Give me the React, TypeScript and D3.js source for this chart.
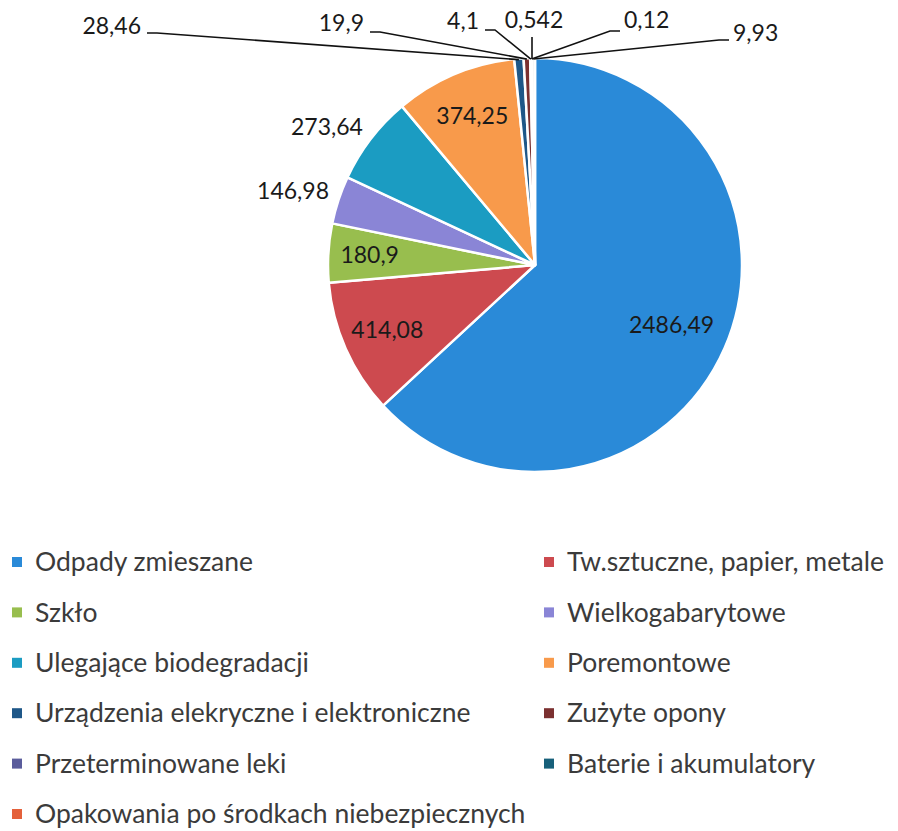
import * as d3 from "d3";
import { useEffect } from "react";

// dane do wykresu
const categories = [
  "Odpady zmieszane",
  "Tw.sztuczne, papier, metale",
  "Szkło",
  "Wielkogabarytowe",
  "Ulegające biodegradacji",
  "Poremontowe",
  "Urządzenia elekryczne i elektroniczne",
  "Zużyte opony",
  "Przeterminowane leki",
  "Baterie i akumulatory",
  "Opakowania po środkach niebezpiecznych",
  "",
];
const values = [2486.49, 414.08, 180.9, 146.98, 273.64, 374.25, 28.46, 19.9, 4.1, 0.542, 0.12, 9.93];
const valueLabels = ["2486,49", "414,08", "180,9", "146,98", "273,64", "374,25", "28,46", "19,9", "4,1", "0,542", "0,12", "9,93"];
const colors = [
  "#2a8ad8", "#cd4a4f", "#98be4e", "#8a85d6", "#1b9cc2", "#f89a4b",
  "#1e5788", "#7b3030", "#5a5c9c", "#17607a", "#e4613b", "#f4f4f4",
];

// gdzie ma stać etykieta: w środku, na zewnątrz, albo odnośnik u góry
const labelMode = ["in", "in", "in", "out", "out", "in", "call", "call", "call", "call", "call", "call"];
const insideRadius = [0.72, 0.78, 0.8, 0, 0, 0.78, 0, 0, 0, 0, 0, 0];
// odnośniki: koniec tekstu (x), linia bazowa, y linii, kierunek
const callouts = [
  null, null, null, null, null, null,
  { x: 141, base: 34, ly: 33, side: "left" },
  { x: 364, base: 31, ly: 32, side: "left" },
  { x: 479, base: 29, ly: 30, side: "left" },
  { x: 534, base: 28, ly: 37, side: "top" },
  { x: 624, base: 28, ly: 31, side: "right" },
  { x: 733, base: 41, ly: 40, side: "right" },
];

const W = 898;
const H = 831;
const cx = 535;
const cy = 265;
const R = 207;
const font = "Lato, 'Open Sans', sans-serif";
const ink = "#3b3b3b";

export default function App() {
  useEffect(() => {
    document.body.style.margin = "0";
  }, []);

  const pie = d3.pie<number>().sort(null).value((d) => d)(values);
  const arc = d3.arc<d3.PieArcDatum<number>>().innerRadius(0).outerRadius(R);

  const edge = (a: d3.PieArcDatum<number>, r: number) => {
    const m = (a.startAngle + a.endAngle) / 2;
    return [Math.sin(m) * r, -Math.cos(m) * r];
  };

  const legendItems = categories
    .map((c, i) => ({ c, i }))
    .filter((d) => d.c !== "");

  return (
    <svg width={W} height={H} style={{ display: "block", background: "#fff" }}>
      <g transform={`translate(${cx},${cy})`}>
        {pie.map((a, i) => (
          <path key={i} d={arc(a) || ""} fill={colors[i]} stroke="#fff" strokeWidth={2.5} strokeLinejoin="round" />
        ))}
      </g>

      {/* etykiety wewnątrz i na zewnątrz */}
      {pie.map((a, i) => {
        if (labelMode[i] === "in") {
          const [x, y] = edge(a, R * insideRadius[i]);
          return (
            <text key={i} x={cx + x} y={cy + y} dy="0.35em" textAnchor="middle" fontFamily={font} fontSize={23} fill="#1a1a1a">
              {valueLabels[i]}
            </text>
          );
        }
        if (labelMode[i] === "out") {
          const [x, y] = edge(a, R + 10);
          return (
            <text key={i} x={cx + x} y={cy + y - 6} dy="0.35em" textAnchor="end" fontFamily={font} fontSize={23} fill="#1a1a1a">
              {valueLabels[i]}
            </text>
          );
        }
        return null;
      })}

      {/* odnośniki dla małych wycinków */}
      {pie.map((a, i) => {
        const c = callouts[i];
        if (!c) return null;
        const [ex, ey] = edge(a, R);
        const px = cx + ex;
        const py = cy + ey + 1;
        let path = "";
        let anchor = "end";
        if (c.side === "left") {
          path = `M${c.x + 6},${c.ly}H${c.x + 16}L${px},${py}`;
        } else if (c.side === "right") {
          path = `M${c.x - 4},${c.ly}H${c.x - 14}L${px},${py}`;
          anchor = "start";
        } else {
          path = `M${c.x - 2},${c.ly}V${py}`;
          anchor = "middle";
        }
        return (
          <g key={i}>
            <path d={path} fill="none" stroke="#111" strokeWidth={1.6} />
            <text x={c.x} y={c.base} textAnchor={anchor} fontFamily={font} fontSize={23} fill="#1a1a1a">
              {valueLabels[i]}
            </text>
          </g>
        );
      })}

      {/* legenda */}
      {legendItems.map((d, k) => {
        const col = k % 2;
        const row = Math.floor(k / 2);
        const x = col === 0 ? 12 : 544;
        const y = 562 + row * 50.4;
        return (
          <g key={d.i} transform={`translate(${x},${y})`}>
            <rect x={0} y={-5} width={10} height={10} fill={colors[d.i]} />
            <text x={23} y={0} dy="0.35em" fontFamily={font} fontSize={26.5} fill={ink}>
              {d.c}
            </text>
          </g>
        );
      })}
    </svg>
  );
}
